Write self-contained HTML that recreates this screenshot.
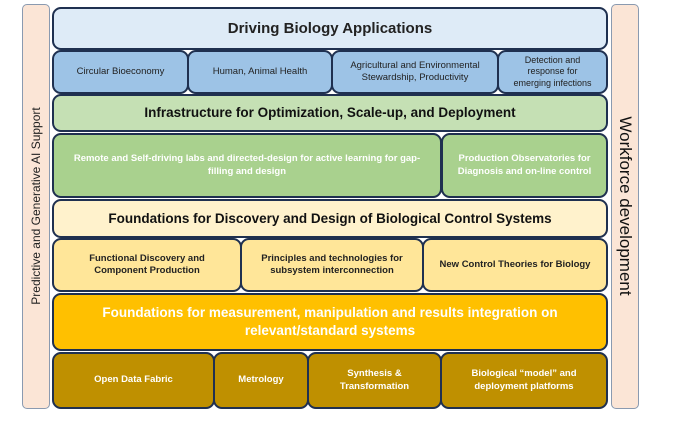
<!DOCTYPE html>
<html><head><style>
body{margin:0;width:677px;height:427px;background:#fff;position:relative;overflow:hidden;font-family:"Liberation Sans",sans-serif;}
.b{position:absolute;box-sizing:border-box;border:2px solid #1f3050;border-radius:9px;display:flex;align-items:center;justify-content:center;text-align:center;font-weight:bold;line-height:1.3;}
.side{position:absolute;box-sizing:border-box;border:1.5px solid #8a9ab0;border-radius:5px;background:#fbe5d6;}
.vt{position:absolute;white-space:nowrap;}
</style></head><body>
<div class="side" style="left:22px;top:4px;width:28px;height:405px"></div>
<div class="vt" style="left:36px;top:206px;transform:translate(-50%,-50%) rotate(-90deg);font-size:12px;color:#222">Predictive and Generative AI Support</div>
<div class="side" style="left:611px;top:4px;width:28px;height:405px"></div>
<div class="vt" style="left:625px;top:206px;transform:translate(-50%,-50%) rotate(90deg);font-size:17px;color:#111">Workforce development</div>

<div class="b" style="left:52px;top:7px;width:556px;height:43px;background:#deebf7;font-size:15px;color:#222">Driving Biology Applications</div>
<div class="b" style="left:52px;top:50px;width:137px;height:44px;background:#9dc3e6;font-size:9.5px;font-weight:normal;color:#222">Circular Bioeconomy</div>
<div class="b" style="left:187px;top:50px;width:146px;height:44px;background:#9dc3e6;font-size:9.5px;font-weight:normal;color:#222">Human, Animal Health</div>
<div class="b" style="left:331px;top:50px;width:168px;height:44px;background:#9dc3e6;font-size:9.5px;font-weight:normal;color:#222">Agricultural and Environmental<br>Stewardship, Productivity</div>
<div class="b" style="left:497px;top:50px;width:111px;height:44px;background:#9dc3e6;font-size:9px;line-height:1.25;font-weight:normal;color:#222">Detection and<br>response for<br>emerging infections</div>

<div class="b" style="left:52px;top:94px;width:556px;height:38px;background:#c5e0b4;font-size:13.5px;color:#111">Infrastructure for Optimization, Scale-up, and Deployment</div>
<div class="b" style="left:52px;top:133px;width:390px;height:65px;background:#a9d18e;font-size:9.5px;color:#fff">Remote and Self-driving labs and directed-design for active learning for gap-<br>filling and design</div>
<div class="b" style="left:441px;top:133px;width:167px;height:65px;background:#a9d18e;font-size:9.5px;color:#fff">Production Observatories for<br>Diagnosis and on-line control</div>

<div class="b" style="left:52px;top:199px;width:556px;height:39px;background:#fff2cc;font-size:13.5px;color:#111">Foundations for Discovery and Design of Biological Control Systems</div>
<div class="b" style="left:52px;top:238px;width:190px;height:54px;background:#ffe699;font-size:9.5px;color:#222">Functional Discovery and<br>Component Production</div>
<div class="b" style="left:240px;top:238px;width:184px;height:54px;background:#ffe699;font-size:9.5px;color:#222">Principles and technologies for<br>subsystem interconnection</div>
<div class="b" style="left:422px;top:238px;width:186px;height:54px;background:#ffe699;font-size:9.5px;color:#222">New Control Theories for Biology</div>

<div class="b" style="left:52px;top:293px;width:556px;height:58px;background:#ffc000;font-size:13.5px;color:#fff">Foundations for measurement, manipulation and results integration on<br>relevant/standard systems</div>
<div class="b" style="left:52px;top:352px;width:163px;height:57px;background:#bf9000;font-size:9.5px;color:#fff">Open Data Fabric</div>
<div class="b" style="left:213px;top:352px;width:96px;height:57px;background:#bf9000;font-size:9.5px;color:#fff">Metrology</div>
<div class="b" style="left:307px;top:352px;width:135px;height:57px;background:#bf9000;font-size:9.5px;color:#fff">Synthesis &amp;<br>Transformation</div>
<div class="b" style="left:440px;top:352px;width:168px;height:57px;background:#bf9000;font-size:9.5px;color:#fff">Biological “model” and<br>deployment platforms</div>
</body></html>
